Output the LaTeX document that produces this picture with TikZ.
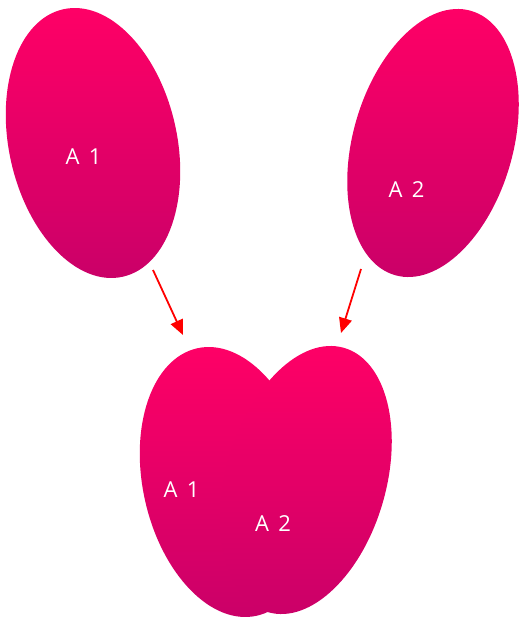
\documentclass[tikz,border=0pt]{standalone}
\usepackage{fontspec}
\setmainfont{Open Sans}
\usetikzlibrary{arrows.meta}
\definecolor{pinktop}{RGB}{255,0,102}
\definecolor{pinkbot}{RGB}{202,0,104}
\tikzset{
  lbl/.style={text=white, font=\fontsize{22}{26}\selectfont, inner sep=0pt},
  conn/.style={draw=red, line width=1.8pt, -{Triangle[length=15pt,width=13pt]}},
}
\newcommand{\lblgap}{\hspace{0.42em}}
% #1 centre x, #2 centre y, #3 rotation, #4 x radius, #5 y radius
\newcommand{\gradellipse}[5]{%
  \begin{scope}
    \clip[rotate around={#3:(#1,#2)}] (#1,#2) ellipse [x radius=#4pt, y radius=#5pt];
    \shade[top color=pinktop, bottom color=pinkbot]
      ({#1-150},{#2+138}) rectangle ({#1+150},{#2-138});
  \end{scope}}
\begin{document}
\begin{tikzpicture}[x=1pt,y=1pt]
\useasboundingbox (0,0) rectangle (519,-617);
% top ellipses
\gradellipse{93}{-143}{12.5}{84}{137}
\gradellipse{433}{-143}{-16}{80}{137.5}
% bottom union
\gradellipse{227}{-482}{12.5}{84}{137}
\gradellipse{306}{-480}{-16}{80}{137.5}
% labels
\node[lbl] (a1) at (83.5,-157) {A\lblgap1};
\node[lbl] (a2) at (406.5,-189.5) {A\lblgap2};
\node[lbl] (b1) at (181.5,-490) {A\lblgap1};
\node[lbl] (b2) at (273,-524) {A\lblgap2};
% arrows
\coordinate (s1) at (153,-270);
\coordinate (e1) at (183,-335);
\coordinate (s2) at (361,-269);
\coordinate (e2) at (341,-333);
\draw[conn] (s1) -- (e1);
\draw[conn] (s2) -- (e2);
\end{tikzpicture}
\end{document}
